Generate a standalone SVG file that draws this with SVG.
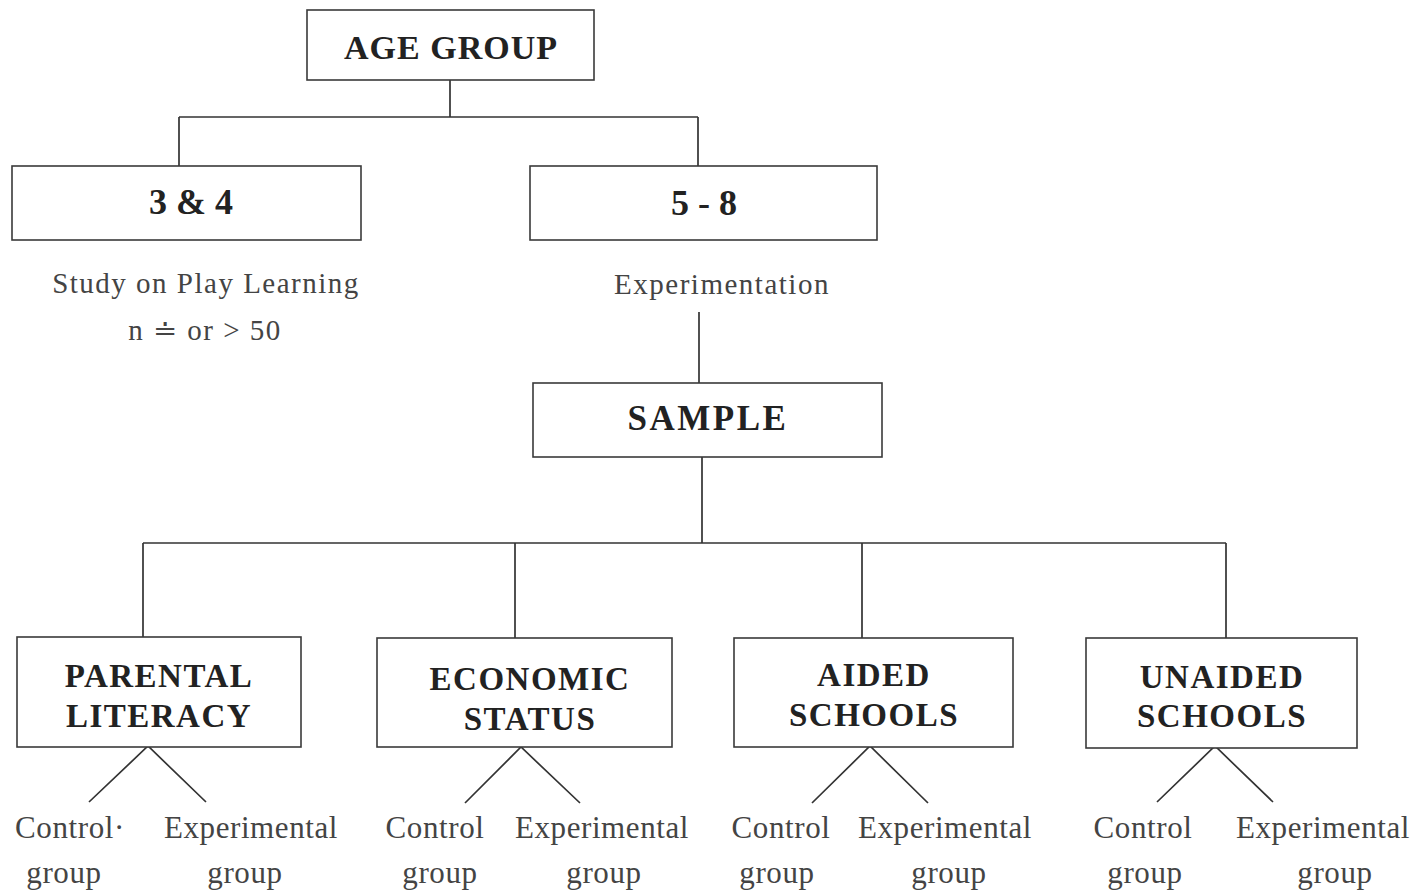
<svg xmlns="http://www.w3.org/2000/svg" width="1415" height="895" viewBox="0 0 1415 895">
<style>
.box{fill:#fff;stroke:#3a3a3a;stroke-width:1.6}
.ln{fill:none;stroke:#333;stroke-width:1.7}
.h{font-family:"Liberation Serif",serif;font-weight:bold;fill:#222;text-anchor:middle}
.t{font-family:"Liberation Serif",serif;fill:#444;text-anchor:middle}
.big{font-size:34px;letter-spacing:1px}
.sub{font-size:33px;letter-spacing:1.5px}
.lab{font-size:29px;letter-spacing:1.5px}
.grp{font-size:31px;letter-spacing:0.6px}
</style>
<rect width="1415" height="895" fill="#fff"/>
<g id="connectors">
<path class="ln" d="M450 80V117M179 117H698M179 117V166M698 117V166"/>
<path class="ln" d="M699 312V383"/>
<path class="ln" d="M702 457V543M143 543H1226M143 543V637M515 543V638M862 543V638M1226 543V638"/>
<path class="ln" d="M89 802L148 746L206 802"/>
<path class="ln" d="M465 803L521 747L580 803"/>
<path class="ln" d="M812 803L870 746L928 803"/>
<path class="ln" d="M1157 802L1215 746L1273 802"/>
</g>
<g id="age-group">
<rect class="box" x="307" y="10" width="287" height="70"/>
<text class="h big" x="451" y="59">AGE GROUP</text>
</g>
<g id="age-3-4">
<rect class="box" x="12" y="166" width="349" height="74"/>
<text class="h" x="191" y="214" font-size="36">3 &amp; 4</text>
<text class="t lab" x="206" y="293">Study on Play Learning</text>
<text class="t lab" x="205" y="340">n ≐ or &gt; 50</text>
</g>
<g id="age-5-8">
<rect class="box" x="530" y="166" width="347" height="74"/>
<text class="h" x="704" y="215" font-size="36">5 - 8</text>
<text class="t lab" x="722" y="294">Experimentation</text>
</g>
<g id="sample">
<rect class="box" x="533" y="383" width="349" height="74"/>
<text class="h" x="708" y="430" font-size="35" letter-spacing="2.5">SAMPLE</text>
</g>
<g id="parental-literacy">
<rect class="box" x="17" y="637" width="284" height="110"/>
<text class="h sub" x="159" y="687">PARENTAL</text>
<text class="h sub" x="159" y="727">LITERACY</text>
<text class="t grp" x="70" y="838">Control·</text>
<text class="t grp" x="251" y="838">Experimental</text>
<text class="t grp" x="64" y="883">group</text>
<text class="t grp" x="245" y="883">group</text>
</g>
<g id="economic-status">
<rect class="box" x="377" y="638" width="295" height="109"/>
<text class="h sub" x="530" y="690">ECONOMIC</text>
<text class="h sub" x="530" y="730">STATUS</text>
<text class="t grp" x="435" y="838">Control</text>
<text class="t grp" x="602" y="838">Experimental</text>
<text class="t grp" x="440" y="883">group</text>
<text class="t grp" x="604" y="883">group</text>
</g>
<g id="aided-schools">
<rect class="box" x="734" y="638" width="279" height="109"/>
<text class="h sub" x="874" y="686">AIDED</text>
<text class="h sub" x="874" y="726">SCHOOLS</text>
<text class="t grp" x="781" y="838">Control</text>
<text class="t grp" x="945" y="838">Experimental</text>
<text class="t grp" x="777" y="883">group</text>
<text class="t grp" x="949" y="883">group</text>
</g>
<g id="unaided-schools">
<rect class="box" x="1086" y="638" width="271" height="110"/>
<text class="h sub" x="1222" y="688">UNAIDED</text>
<text class="h sub" x="1222" y="727">SCHOOLS</text>
<text class="t grp" x="1143" y="838">Control</text>
<text class="t grp" x="1323" y="838">Experimental</text>
<text class="t grp" x="1145" y="883">group</text>
<text class="t grp" x="1335" y="883">group</text>
</g>
</svg>
